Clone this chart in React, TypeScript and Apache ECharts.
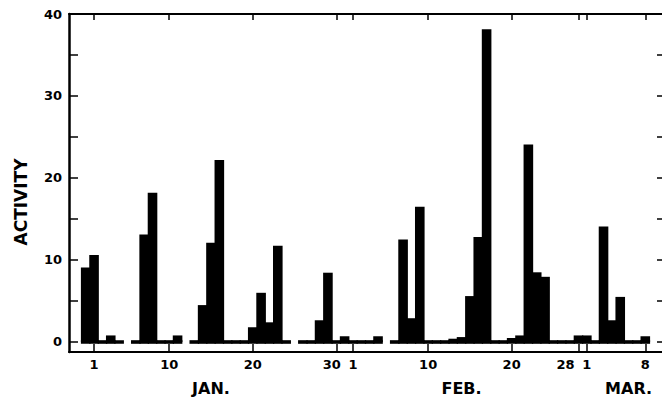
import React, { useEffect, useRef } from "react";
import * as echarts from "echarts";

// Day categories: Dec 29 .. Mar 10
const monthSpans: [string, number, number][] = [
  ["Dec", 29, 31],
  ["Jan", 1, 31],
  ["Feb", 1, 28],
  ["Mar", 1, 10],
];
const days: string[] = [];
for (const [m, a, b] of monthSpans) for (let d = a; d <= b; d++) days.push(`${m} ${d}`);

// Daily activity (null = no observation)
const activity: (number | null)[] = [
  null, null, 9.1, // Dec 29-31
  10.6, 0, 0.8, 0, null, 0, 13.1, 18.2, 0, 0, // Jan 1-10
  0.8, null, 0, 4.5, 12.1, 22.2, 0, 0, 0, 1.8, // Jan 11-20
  6.0, 2.4, 11.75, 0, null, 0, 0, 2.65, 8.45, 0, 0.7, // Jan 21-31
  0, 0, 0, 0.7, null, 0, 12.5, 2.9, 16.5, 0, // Feb 1-10
  0, 0, 0.4, 0.6, 5.6, 12.8, 38.15, 0, 0, 0.5, // Feb 11-20
  0.8, 24.1, 8.5, 7.95, 0, 0, 0, 0.8, // Feb 21-28
  0.8, 0, 14.1, 2.65, 5.5, 0, 0, 0.7, null, null, // Mar 1-10
];

const tickDays = ["Jan 1", "Jan 10", "Jan 20", "Jan 30", "Feb 1", "Feb 10", "Feb 20", "Feb 28", "Mar 1", "Mar 8"];
// labels drawn left of their tick in the original
const shiftedLabels: Record<string, string> = { "Jan 30": "t", "Feb 28": "s" };
const monthLabels: Record<string, string> = { "Jan 15": "JAN.", "Feb 14": "FEB.", "Mar 6": "MAR." };
const yTickValues = [0, 5, 10, 15, 20, 25, 30, 35, 40];
const yLabelValues = [0, 10, 20, 30, 40];
const yTitle = "ACTIVITY";

const FONT = "DejaVu Sans";

export default function App() {
  const ref = useRef<HTMLDivElement>(null);
  useEffect(() => {
    const chart = echarts.init(ref.current!, null, { renderer: "svg" });
    const baseUp = activity.map((v) => (v === null ? null : 0.22));
    const baseDown = activity.map((v) => (v === null ? null : -0.22));
    const isTick = (_i: number, v: string) => tickDays.includes(v);
    const labelFont = { fontSize: 13, fontWeight: "bold" as const, color: "#000", fontFamily: FONT };
    const option: any = {
      animation: false,
      backgroundColor: "#fff",
      textStyle: { fontFamily: FONT },
      grid: { left: 69, right: 0, top: 14, bottom: 49, containLabel: false, outerBoundsMode: "none" },
      xAxis: [
        {
          type: "category",
          data: days,
          position: "bottom",
          boundaryGap: false,
          axisLine: { onZero: false, lineStyle: { color: "#000", width: 2 } },
          axisTick: { inside: true, length: 8, interval: isTick, lineStyle: { color: "#000", width: 1.5 } },
          axisLabel: {
            interval: isTick,
            formatter: (v: string) => {
              const day = v.split(" ")[1];
              const k = shiftedLabels[v];
              return k ? `{${k}|${day}}` : day;
            },
            margin: 6,
            ...labelFont,
            rich: {
              s: { ...labelFont, padding: [0, 26, 0, 0] },
              t: { ...labelFont, padding: [0, 9, 0, 0] },
            },
          },
          splitLine: { show: false },
        },
        {
          type: "category",
          data: days,
          position: "top",
          boundaryGap: false,
          axisLine: { onZero: false, lineStyle: { color: "#000", width: 2 } },
          axisTick: { inside: true, length: 6, interval: isTick, lineStyle: { color: "#000", width: 1.5 } },
          axisLabel: { show: false },
          splitLine: { show: false },
        },
        {
          type: "category",
          data: days,
          position: "bottom",
          boundaryGap: false,
          axisLine: { show: false, onZero: false },
          axisTick: { show: false },
          axisLabel: {
            interval: (_i: number, v: string) => v in monthLabels,
            formatter: (v: string) => monthLabels[v] || "",
            margin: 28,
            fontSize: 16,
            fontWeight: "bold",
            color: "#000",
            fontFamily: FONT,
          },
          splitLine: { show: false },
        },
      ],
      yAxis: [
        {
          type: "value",
          position: "left",
          min: -1.22,
          max: 40,
          axisLine: { show: true, onZero: false, lineStyle: { color: "#000", width: 2.5 } },
          axisTick: { show: true, inside: true, length: 9, customValues: yTickValues, lineStyle: { color: "#000", width: 1.5 } },
          axisLabel: {
            customValues: yLabelValues,
            margin: 7,
            ...labelFont,
          },
          splitLine: { show: false },
        },
        {
          type: "value",
          position: "right",
          min: -1.22,
          max: 40,
          axisLine: { show: false, onZero: false },
          axisTick: { show: true, inside: true, length: 5, customValues: yTickValues, lineStyle: { color: "#000", width: 1.5 } },
          axisLabel: { show: false },
          splitLine: { show: false },
        },
      ],
      series: [
        {
          name: "observed-up",
          type: "bar",
          data: baseUp,
          barWidth: "115%",
          barGap: "-100%",
          itemStyle: { color: "#000" },
          silent: true,
        },
        {
          name: "observed-down",
          type: "bar",
          data: baseDown,
          barWidth: "115%",
          barGap: "-100%",
          itemStyle: { color: "#000" },
          silent: true,
        },
        {
          name: "activity",
          type: "bar",
          data: activity,
          barWidth: "115%",
          barGap: "-100%",
          itemStyle: { color: "#000" },
        },
      ],
      graphic: [
        {
          type: "text",
          x: 21,
          y: 202,
          rotation: Math.PI / 2,
          style: {
            text: yTitle,
            fill: "#000",
            fontSize: 17,
            fontWeight: "bold",
            fontFamily: FONT,
            align: "center",
            verticalAlign: "middle",
          },
        },
      ],
    };
    chart.setOption(option);
    return () => chart.dispose();
  }, []);
  return (
    <div
      ref={ref}
      style={{ position: "fixed", left: 0, top: 0, width: 662, height: 401, background: "#fff" }}
    />
  );
}
